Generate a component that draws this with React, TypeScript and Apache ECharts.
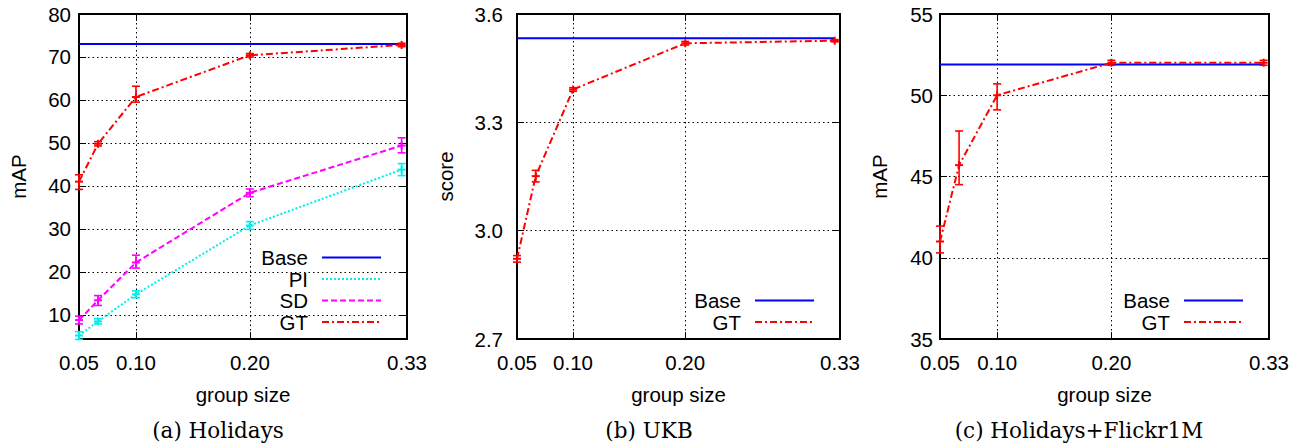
import React, { useEffect, useRef } from 'react';
import * as echarts from 'echarts';

// ---------------- data ----------------
const groupSizes = [0.05, 0.0667, 0.1, 0.2, 0.3333];
const xTickValues = [0.05, 0.1, 0.2, 0.338];
const xTickLabels = ['0.05', '0.10', '0.20', '0.33'];

// (a) Holidays
const holYTicks = [10, 20, 30, 40, 50, 60, 70, 80];
const holBase = [73, 73, 73, 73, 73];
const holPI = [5.2, 8.5, 14.8, 30.8, 43.8];
const holPILow = [4.3, 7.9, 14.0, 29.9, 42.4];
const holPIHigh = [6.1, 9.1, 15.6, 31.7, 45.2];
const holSD = [8.8, 13.4, 22.2, 38.4, 49.4];
const holSDLow = [7.9, 12.2, 20.9, 37.5, 47.7];
const holSDHigh = [9.7, 14.5, 23.9, 39.3, 51.2];
const holGT = [41.0, 49.8, 60.7, 70.4, 72.8];
const holGTLow = [39.2, 49.3, 59.5, 70.0, 72.4];
const holGTHigh = [42.6, 50.3, 63.2, 70.8, 73.2];

// (b) UKB
const ukbYTicks = [2.7, 3.0, 3.3, 3.6];
const ukbBase = [3.533, 3.533, 3.533, 3.533, 3.533];
const ukbGT = [2.922, 3.151, 3.391, 3.519, 3.526];
const ukbGTLow = [2.913, 3.135, 3.386, 3.514, 3.523];
const ukbGTHigh = [2.931, 3.167, 3.396, 3.524, 3.529];

// (c) Holidays+Flickr1M
const flkYTicks = [35, 40, 45, 50, 55];
const flkBase = [51.9, 51.9, 51.9, 51.9, 51.9];
const flkGT = [41.0, 45.7, 50.0, 52.0, 52.0];
const flkGTLow = [40.3, 44.5, 49.1, 51.85, 51.85];
const flkGTHigh = [41.95, 47.8, 50.7, 52.15, 52.15];

// ---------------- styles ----------------
const SANS = '"Liberation Sans", Arial, Helvetica, sans-serif';
const SERIF = '"DejaVu Serif", serif';
const FS = 20.5;

const lineStyles: Record<string, { color: string; type: any; width: number }> = {
  Base: { color: '#0000ff', type: 'solid', width: 2 },
  PI: { color: '#00eeee', type: [2, 2], width: 2 },
  SD: { color: '#ff00ff', type: [6, 3], width: 2 },
  GT: { color: '#ff0000', type: [7, 3, 2, 3], width: 2 },
};

type SeriesDef = { name: string; values: number[]; low?: number[]; high?: number[] };
type Panel = {
  left: number;
  width: number;
  yMin: number;
  yMax: number;
  yTicks: number[];
  yDecimals: number;
  yName: string;
  yNameGap: number;
  yLabelMargin: number;
  caption: string;
  captionX: number;
  series: SeriesDef[];
};

const TOP = 14;
const HEIGHT = 325;

const panels: Panel[] = [
  {
    left: 79, width: 328, yMin: 4.4, yMax: 80, yTicks: holYTicks, yDecimals: 0,
    yName: 'mAP', yNameGap: 50, yLabelMargin: 8, caption: '(a) Holidays', captionX: 218,
    series: [
      { name: 'Base', values: holBase },
      { name: 'PI', values: holPI, low: holPILow, high: holPIHigh },
      { name: 'SD', values: holSD, low: holSDLow, high: holSDHigh },
      { name: 'GT', values: holGT, low: holGTLow, high: holGTHigh },
    ],
  },
  {
    left: 517, width: 323, yMin: 2.7, yMax: 3.6, yTicks: ukbYTicks, yDecimals: 1,
    yName: 'score', yNameGap: 61, yLabelMargin: 14, caption: '(b) UKB', captionX: 649,
    series: [
      { name: 'Base', values: ukbBase },
      { name: 'GT', values: ukbGT, low: ukbGTLow, high: ukbGTHigh },
    ],
  },
  {
    left: 940, width: 329, yMin: 35, yMax: 55, yTicks: flkYTicks, yDecimals: 0,
    yName: 'mAP', yNameGap: 50, yLabelMargin: 7, caption: '(c) Holidays+Flickr1M', captionX: 1079,
    series: [
      { name: 'Base', values: flkBase },
      { name: 'GT', values: flkGT, low: flkGTLow, high: flkGTHigh },
    ],
  },
];

function errorSeries(s: SeriesDef, gi: number) {
  const color = lineStyles[s.name].color;
  return {
    type: 'custom',
    name: s.name + ' err',
    xAxisIndex: gi * 2,
    yAxisIndex: gi * 2,
    z: 4,
    clip: false,
    data: groupSizes.map((x, i) => [x, s.values[i], s.low![i], s.high![i]]),
    encode: { x: 0, y: [1, 2, 3] },
    renderItem: (_params: any, api: any) => {
      const x = api.value(0);
      const c = api.coord([x, api.value(1)]);
      const a = api.coord([x, api.value(2)]);
      const b = api.coord([x, api.value(3)]);
      const cap = 4;
      const m = 4;
      const st = { stroke: color, lineWidth: 1.6 };
      const stm = { stroke: color, lineWidth: 2 };
      return {
        type: 'group',
        children: [
          { type: 'line', shape: { x1: a[0], y1: a[1], x2: b[0], y2: b[1] }, style: st },
          { type: 'line', shape: { x1: a[0] - cap, y1: a[1], x2: a[0] + cap, y2: a[1] }, style: st },
          { type: 'line', shape: { x1: b[0] - cap, y1: b[1], x2: b[0] + cap, y2: b[1] }, style: st },
          { type: 'line', shape: { x1: c[0] - m, y1: c[1], x2: c[0] + m, y2: c[1] }, style: stm },
          { type: 'line', shape: { x1: c[0], y1: c[1] - m, x2: c[0], y2: c[1] + m }, style: stm },
        ],
      };
    },
  };
}

function buildOption() {
  const grid: any[] = [];
  const xAxis: any[] = [];
  const yAxis: any[] = [];
  const series: any[] = [];
  const graphic: any[] = [];

  panels.forEach((p, gi) => {
    grid.push({
      left: p.left, top: TOP, width: p.width, height: HEIGHT,
      show: true, borderColor: '#000', borderWidth: 2, backgroundColor: 'transparent',
    });
    const xFmt = (v: number) => {
      const idx = xTickValues.findIndex((t) => Math.abs(t - v) < 1e-6);
      return idx >= 0 ? xTickLabels[idx] : '';
    };
    xAxis.push({
      type: 'value', gridIndex: gi, min: 0.05, max: 0.338, position: 'bottom',
      name: 'group size', nameLocation: 'middle', nameGap: 45,
      nameTextStyle: { fontFamily: SANS, fontSize: FS, color: '#000' },
      axisLine: { show: false },
      axisTick: { show: true, inside: true, length: 7, customValues: xTickValues, lineStyle: { color: '#000', width: 1 } },
      axisLabel: { show: true, customValues: xTickValues, formatter: xFmt, margin: 13, fontFamily: SANS, fontSize: FS, color: '#000', showMinLabel: true, showMaxLabel: true },
      splitLine: { show: true, lineStyle: { color: '#000', type: [1.5, 3], width: 1 } },
    });
    xAxis.push({
      type: 'value', gridIndex: gi, min: 0.05, max: 0.338, position: 'top',
      axisLine: { show: false },
      axisTick: { show: true, inside: true, length: 7, customValues: xTickValues, lineStyle: { color: '#000', width: 1 } },
      axisLabel: { show: false },
      splitLine: { show: false },
    });
    yAxis.push({
      type: 'value', gridIndex: gi, min: p.yMin, max: p.yMax, position: 'left',
      name: p.yName, nameLocation: 'middle', nameGap: p.yNameGap,
      nameTextStyle: { fontFamily: SANS, fontSize: FS, color: '#000' },
      axisLine: { show: false },
      axisTick: { show: true, inside: true, length: 7, customValues: p.yTicks, lineStyle: { color: '#000', width: 1 } },
      axisLabel: {
        show: true, customValues: p.yTicks, margin: p.yLabelMargin,
        formatter: (v: number) => v.toFixed(p.yDecimals),
        fontFamily: SANS, fontSize: FS, color: '#000', showMinLabel: true, showMaxLabel: true,
      },
      splitLine: { show: true, lineStyle: { color: '#000', type: [1.5, 3], width: 1 } },
    });
    yAxis.push({
      type: 'value', gridIndex: gi, min: p.yMin, max: p.yMax, position: 'right',
      axisLine: { show: false },
      axisTick: { show: true, inside: true, length: 7, customValues: p.yTicks, lineStyle: { color: '#000', width: 1 } },
      axisLabel: { show: false },
      splitLine: { show: false },
    });

    p.series.forEach((s) => {
      const ls = lineStyles[s.name];
      series.push({
        type: 'line',
        name: s.name,
        xAxisIndex: gi * 2,
        yAxisIndex: gi * 2,
        data: groupSizes.map((x, i) => [x, s.values[i]]),
        showSymbol: false,
        symbol: 'none',
        z: s.name === 'Base' ? 2 : 3,
        lineStyle: { color: ls.color, type: ls.type, width: ls.width },
        itemStyle: { color: ls.color },
      });
      if (s.low && s.high) series.push(errorSeries(s, gi));
    });

    // legend (inside, bottom-right)
    const R = p.left + p.width;
    const B = TOP + HEIGHT;
    const n = p.series.length;
    p.series.forEach((s, j) => {
      const y = B - 17 - (n - 1 - j) * 21.5;
      const ls = lineStyles[s.name];
      graphic.push({
        type: 'text', x: R - 99, y, z: 10,
        style: { text: s.name, align: 'right', verticalAlign: 'middle', fontFamily: SANS, fontSize: FS, fill: '#000' },
      });
      graphic.push({
        type: 'line', z: 10,
        shape: { x1: R - 85, y1: y, x2: R - 26, y2: y },
        style: { stroke: ls.color, lineWidth: ls.width, lineDash: ls.type === 'solid' ? null : ls.type },
      });
    });

    graphic.push({
      type: 'text', x: p.captionX, y: 430, z: 10,
      style: { text: p.caption, align: 'center', verticalAlign: 'middle', fontFamily: SERIF, fontSize: 21.5, fill: '#000' },
    });
  });

  return {
    animation: false,
    backgroundColor: '#fff',
    grid,
    xAxis,
    yAxis,
    series,
    graphic,
  };
}

export default function App() {
  const ref = useRef<HTMLDivElement>(null);
  useEffect(() => {
    const chart = echarts.init(ref.current!, null, { renderer: 'svg' });
    chart.setOption(buildOption() as any);
    return () => chart.dispose();
  }, []);
  return (
    <div
      ref={ref}
      style={{ position: 'fixed', left: 0, top: 0, width: 1302, height: 445, background: '#fff' }}
    />
  );
}
